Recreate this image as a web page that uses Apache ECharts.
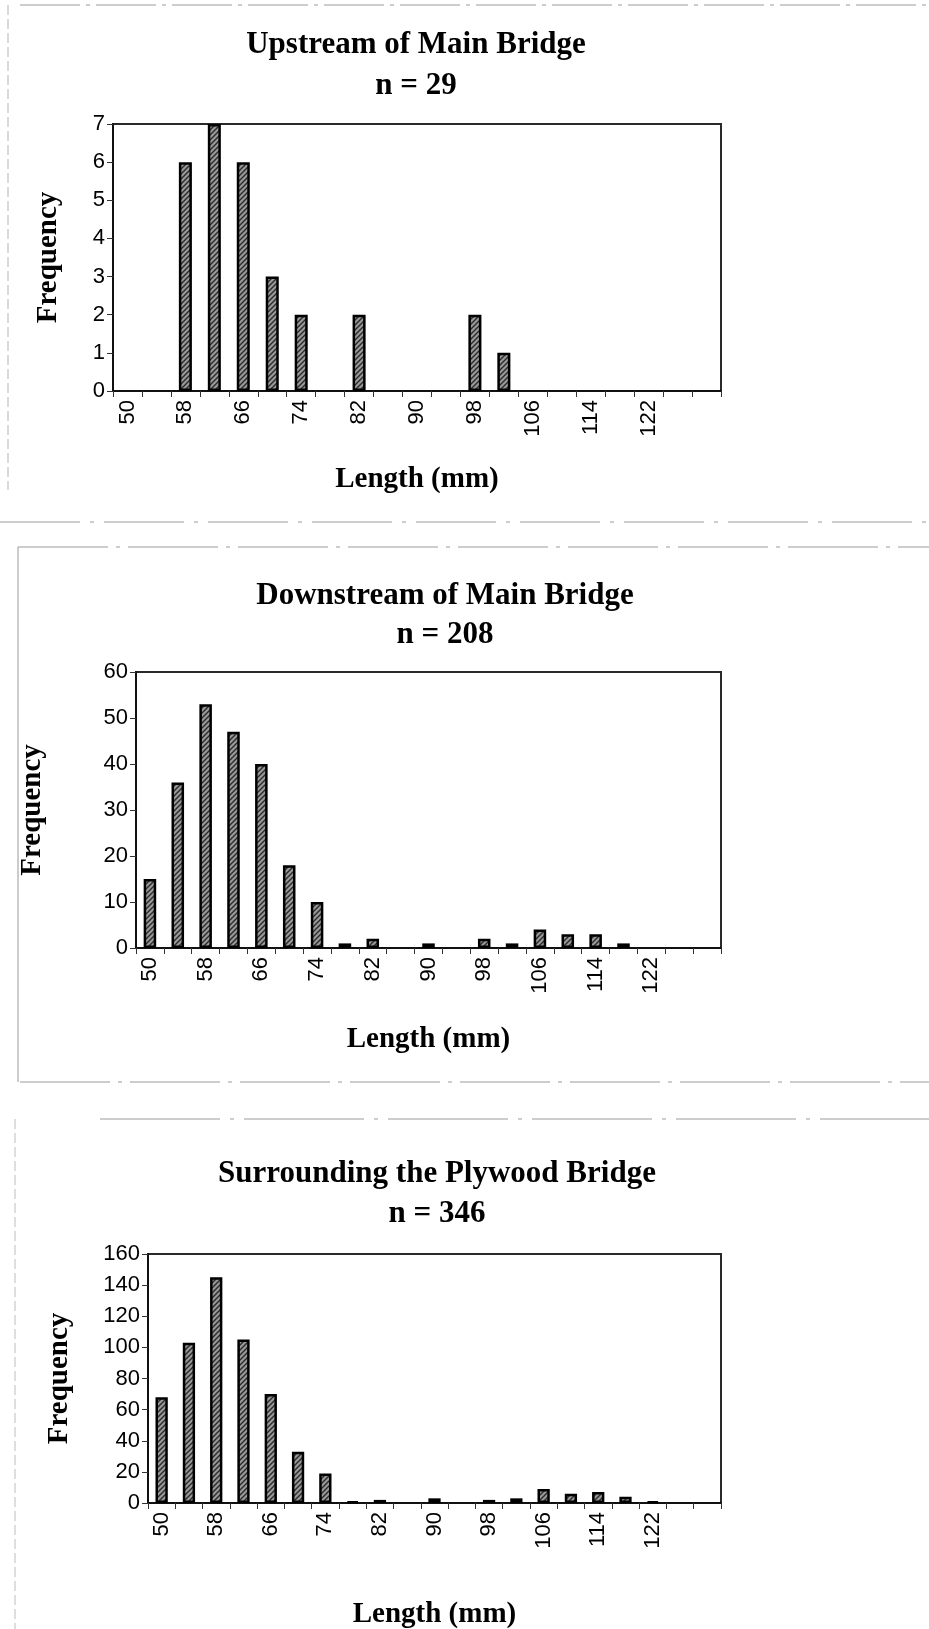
<!DOCTYPE html>
<html>
<head>
<meta charset="utf-8">
<script src="https://cdn.jsdelivr.net/npm/echarts@6/dist/echarts.min.js"></script>
<style>
html,body{margin:0;padding:0;background:#fff;}
#c{width:929px;height:1629px;}
</style>
</head>
<body>
<div id="c"></div>
<script>
// Length bins (mm); last bin is the overflow bin with no label
const categories = ['50','54','58','62','66','70','74','78','82','86','90','94','98','102','106','110','114','118','122','126',''];
const upstreamValues   = [0,0,6,7,6,3,2,0,2,0,0,0,2,1,0,0,0,0,0,0,0];
const downstreamValues = [15,36,53,47,40,18,10,1,2,0,1,0,2,1,4,3,3,1,0,0,0];
const plywoodValues    = [68,103,145,105,70,33,19,1,2,0,3,0,2,3,9,6,7,4,1,0,0];
const chartTitles = ['Upstream of Main Bridge\nn = 29','Downstream of Main Bridge\nn = 208','Surrounding the Plywood Bridge\nn = 346'];
const yMax = [7, 60, 160];
const yStep = [1, 10, 20];

// hatched grey fill like the scanned bars
function makeHatch(){
  const c = document.createElement('canvas');
  c.width = 5; c.height = 5;
  const g = c.getContext('2d');
  g.fillStyle = '#999';
  g.fillRect(0,0,5,5);
  g.strokeStyle = '#2a2a2a';
  g.lineWidth = 1.4;
  g.beginPath();
  g.moveTo(0,5); g.lineTo(5,0);
  g.moveTo(-2.5,2.5); g.lineTo(2.5,-2.5);
  g.moveTo(2.5,7.5); g.lineTo(7.5,2.5);
  g.stroke();
  return c;
}
const hatch = {image: makeHatch(), repeat: 'repeat'};

const grids = [
  {left:113, top:124, width:608, height:267},
  {left:136, top:672, width:585, height:276},
  {left:148, top:1254, width:573, height:249}
];
const titlePos = [{x:411, y:19, lh:41},{x:440, y:571, lh:39},{x:432, y:1149, lh:40}];
const yNameGap = [50, 89, 74];
const xNameGap = [74, 77, 97];
const seriesData = [upstreamValues, downstreamValues, plywoodValues];

const serif = '"Liberation Serif","Times New Roman",serif';
const sans = '"Liberation Sans",Arial,sans-serif';

const option = {
  animation: false,
  backgroundColor: '#fff',
  title: chartTitles.map((t,i)=>({
    text: t, left: titlePos[i].x, top: titlePos[i].y, textAlign: 'center',
    textStyle: {fontFamily: serif, fontWeight: 'bold', fontSize: 31, color: '#000', lineHeight: titlePos[i].lh}
  })),
  grid: grids.map(g=>Object.assign({show:true, borderColor:'#2a2a2a', borderWidth:2, backgroundColor:'#fff', containLabel:false, outerBoundsMode:'none'}, g)),
  xAxis: grids.map((g,i)=>({
    type: 'category', gridIndex: i, data: categories,
    name: 'Length (mm)', nameLocation: 'middle', nameGap: xNameGap[i],
    nameTextStyle: {fontFamily: serif, fontWeight: 'bold', fontSize: 29, color: '#000'},
    axisLine: {lineStyle: {color: '#111', width: 2}},
    axisTick: {show: true, interval: 0, length: 6, lineStyle: {color: '#333', width: 1}},
    axisLabel: {interval: 1, rotate: 90, margin: 9, fontFamily: sans, fontSize: 22, color: '#000'}
  })),
  yAxis: grids.map((g,i)=>({
    type: 'value', gridIndex: i, min: 0, max: yMax[i], interval: yStep[i],
    name: 'Frequency', nameLocation: 'middle', nameGap: yNameGap[i], nameRotate: 90,
    nameTextStyle: {fontFamily: serif, fontWeight: 'bold', fontSize: 29, color: '#000'},
    splitLine: {show: false},
    axisLine: {show: true, lineStyle: {color: '#111', width: 2}},
    axisTick: {show: true, length: 6, lineStyle: {color: '#333', width: 1}},
    axisLabel: {margin: 8, fontFamily: sans, fontSize: 22, color: '#000'}
  })),
  series: seriesData.map((d,i)=>({
    type: 'bar', xAxisIndex: i, yAxisIndex: i,
    data: d.map(v => v === 0 ? null : v), // empty bins draw no bar
    barWidth: '45%',
    itemStyle: {color: hatch, borderColor: '#000', borderWidth: 2.5}
  })),
  graphic: [
    // scanned page / chart object outlines
    {type:'line', shape:{x1:20,y1:5,x2:929,y2:5}, style:{stroke:'#9a9a9a', lineWidth:1, lineDash:[60,6,4,6]}},
    {type:'line', shape:{x1:8,y1:5,x2:8,y2:490}, style:{stroke:'#b5b5b5', lineWidth:1, lineDash:[10,4]}},
    {type:'line', shape:{x1:0,y1:522,x2:929,y2:522}, style:{stroke:'#9a9a9a', lineWidth:1, lineDash:[80,10,4,10]}},
    {type:'line', shape:{x1:18,y1:547,x2:929,y2:547}, style:{stroke:'#9a9a9a', lineWidth:1, lineDash:[90,8,4,8]}},
    {type:'line', shape:{x1:18,y1:547,x2:18,y2:1082}, style:{stroke:'#9a9a9a', lineWidth:1}},
    {type:'line', shape:{x1:20,y1:1082,x2:929,y2:1082}, style:{stroke:'#9a9a9a', lineWidth:1, lineDash:[90,8,4,8]}},
    {type:'line', shape:{x1:100,y1:1119,x2:929,y2:1119}, style:{stroke:'#9a9a9a', lineWidth:1, lineDash:[120,10,4,10]}},
    {type:'line', shape:{x1:15,y1:1119,x2:15,y2:1629}, style:{stroke:'#bdbdbd', lineWidth:1, lineDash:[10,4]}}
  ]
};

const chart = echarts.init(document.getElementById('c'), null, {renderer: 'canvas'});
chart.setOption(option);
</script>
</body>
</html>
